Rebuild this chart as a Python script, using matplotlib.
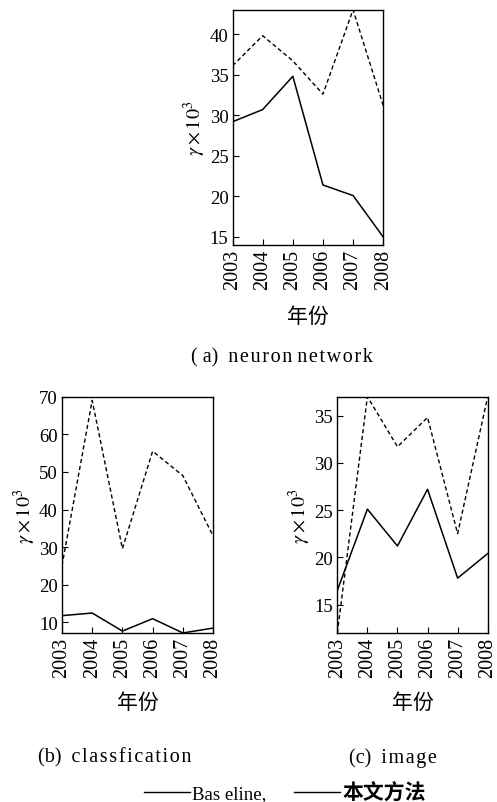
import numpy as np
import matplotlib
matplotlib.use("Agg")
import matplotlib.pyplot as plt
from matplotlib.lines import Line2D

plt.rcParams['font.family'] = ['Liberation Serif', 'Noto Sans CJK SC']
plt.rcParams['mathtext.fontset'] = 'stix'
plt.rcParams['font.size'] = 12

years = [2003, 2004, 2005, 2006, 2007, 2008]

# (a) neuron network
a_baseline = [29.2, 30.7, 34.8, 21.4, 20.1, 15.0]
a_ours = [36.1, 39.8, 36.7, 32.6, 43.0, 31.2]
# (b) classfication
b_baseline = [11.8, 12.5, 7.7, 11.0, 7.2, 8.5]
b_ours = [25.1, 69.0, 29.6, 55.5, 49.0, 33.0]
# (c) image
c_baseline = [16.5, 25.1, 21.2, 27.2, 17.8, 20.4]
c_ours = [12.0, 37.0, 31.7, 34.8, 22.5, 37.0]

fig = plt.figure(figsize=(4.97, 8.03), dpi=100)


def spaced(s):
    # loose letter spacing like the scanned captions
    return '\u200a'.join(s)


def panel(rect, base, ours, ylim, yticks, xlab_y):
    ax = fig.add_axes(rect)
    ax.plot(years, base, color='black', lw=1.1)
    ax.plot(years, ours, color='black', lw=1.0, ls=(0, (3, 2)))
    ax.set_xlim(2003, 2008)
    ax.set_ylim(*ylim)
    ax.set_xticks(years)
    ax.set_xticklabels([str(y) for y in years], rotation=90, fontsize=14.5)
    ax.set_yticks(yticks)
    ax.tick_params(axis='y', labelsize=13.5)
    ax.tick_params(direction='in', length=4, width=0.8, top=False, right=False, pad=3)
    ax.set_ylabel(r'$\gamma\times10^3$', fontsize=14.5, labelpad=1)
    ax.text(0.5, xlab_y, '年份', family=['Noto Sans CJK SC'], fontsize=15,
            ha='center', va='center', transform=ax.transAxes)
    for s in ax.spines.values():
        s.set_linewidth(1.0)
    return ax


panel([0.468, 0.6936, 0.303, 0.293], a_baseline, a_ours, (14, 43), [15, 20, 25, 30, 35, 40], -0.30)
panel([0.1247, 0.2105, 0.304, 0.2943], b_baseline, b_ours, (7.2, 70), [10, 20, 30, 40, 50, 60, 70], -0.292)
panel([0.6787, 0.2105, 0.3026, 0.2943], c_baseline, c_ours, (12, 37), [15, 20, 25, 30, 35], -0.292)

fig.text(282 / 497, 1 - 358 / 803, '( a)  ' + spaced('neuron') + ' ' + spaced('network'),
         ha='center', va='center', fontsize=14.5)
fig.text(115 / 497, 1 - 758 / 803, '(b)  ' + spaced('classfication'),
         ha='center', va='center', fontsize=14.5)
fig.text(393 / 497, 1 - 758 / 803, '(c)  ' + spaced('image'),
         ha='center', va='center', fontsize=14.5)

handles = [Line2D([], [], color='black', lw=1.0), Line2D([], [], color='black', lw=1.0)]
leg = fig.legend(handles, ['Bas eline,', '本文方法'], loc='center',
                 bbox_to_anchor=(285 / 497, 1 - 793 / 803), ncol=2, frameon=False,
                 handlelength=2.45, handletextpad=0.1, columnspacing=1.5, fontsize=13.5)
t = leg.get_texts()[1]
t.set_family(['Noto Sans CJK SC'])
t.set_fontweight('bold')
t.set_fontsize(15)

fig.savefig('out.png', dpi=100)
